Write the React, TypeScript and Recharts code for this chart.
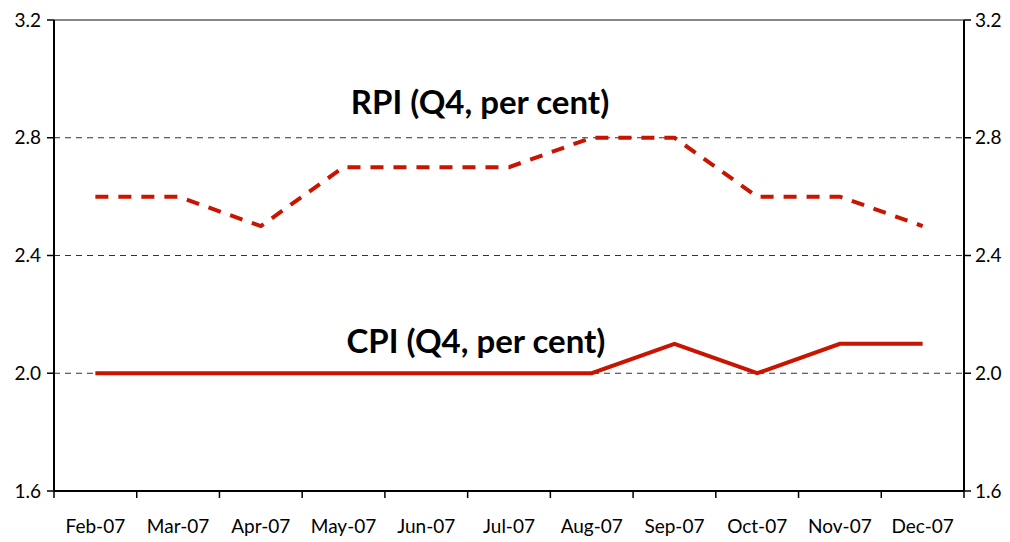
import {
  LineChart,
  Line,
  XAxis,
  YAxis,
  CartesianGrid,
  ReferenceLine,
  ReferenceDot,
} from 'recharts';

const months = ['Feb-07', 'Mar-07', 'Apr-07', 'May-07', 'Jun-07', 'Jul-07', 'Aug-07', 'Sep-07', 'Oct-07', 'Nov-07', 'Dec-07'];
const rpi = [2.6, 2.6, 2.5, 2.7, 2.7, 2.7, 2.8, 2.8, 2.6, 2.6, 2.5];
const cpi = [2.0, 2.0, 2.0, 2.0, 2.0, 2.0, 2.0, 2.1, 2.0, 2.1, 2.1];
const yTicks = [1.6, 2.0, 2.4, 2.8, 3.2];

const RED = '#c81400';
const FONT = 'Lato, "Open Sans", sans-serif';

// numeric x so the tick marks can sit between the months, Excel style
const data = months.map((m, i) => ({ i, month: m, rpi: rpi[i], cpi: cpi[i] }));
const labelTicks = months.map((_, i) => i);
const boundaryTicks = [-0.5, ...months.map((_, i) => i + 0.5)];

const tickStyle = { fontSize: 19, fill: '#000', fontFamily: FONT };
const titleStyle = { fontSize: 33, fontWeight: 700, fill: '#000', fontFamily: FONT };

export default function App() {
  return (
    <div style={{ width: 1010, height: 542, background: '#fff' }}>
      <style>{`body{margin:0}`}</style>
      <LineChart
        width={1010}
        height={542}
        data={data}
        margin={{ top: 20, right: 0, bottom: 0, left: 0 }}
      >
        <CartesianGrid
          vertical={false}
          horizontalValues={[2.0, 2.4, 2.8]}
          stroke="#333"
          strokeDasharray="6 5"
          yAxisId="left"
        />
        <XAxis
          xAxisId="month"
          dataKey="i"
          type="number"
          domain={[-0.5, 10.5]}
          ticks={labelTicks}
          interval={0}
          tickFormatter={(v: number) => months[v]}
          axisLine={false}
          tickLine={false}
          tickMargin={22}
          height={50}
          tick={tickStyle}
        />
        <XAxis
          xAxisId="edge"
          dataKey="i"
          type="number"
          domain={[-0.5, 10.5]}
          ticks={boundaryTicks}
          interval={0}
          tickFormatter={() => ''}
          tickSize={7}
          height={1}
          axisLine={{ stroke: '#000', strokeWidth: 2 }}
          tickLine={{ stroke: '#000', strokeWidth: 1.5 }}
        />
        <YAxis
          yAxisId="left"
          domain={[1.6, 3.2]}
          ticks={yTicks}
          tickFormatter={(v: number) => v.toFixed(1)}
          width={54}
          tickSize={7}
          tickMargin={6}
          axisLine={{ stroke: '#000', strokeWidth: 2 }}
          tickLine={{ stroke: '#000', strokeWidth: 1.5 }}
          tick={tickStyle}
        />
        <YAxis
          yAxisId="right"
          orientation="right"
          domain={[1.6, 3.2]}
          ticks={yTicks}
          tickFormatter={(v: number) => v.toFixed(1)}
          width={46}
          tickSize={7}
          tickMargin={4}
          axisLine={{ stroke: '#000', strokeWidth: 2 }}
          tickLine={{ stroke: '#000', strokeWidth: 1.5 }}
          tick={tickStyle}
        />
        <ReferenceLine yAxisId="left" xAxisId="month" y={3.2} stroke="#888" strokeWidth={2} />
        {/* invisible series so the right axis and the tick-mark axis get drawn */}
        <Line
          xAxisId="edge"
          yAxisId="right"
          dataKey="rpi"
          stroke="none"
          dot={false}
          activeDot={false}
          legendType="none"
          isAnimationActive={false}
        />
        <Line
          xAxisId="month"
          yAxisId="left"
          type="linear"
          dataKey="rpi"
          stroke={RED}
          strokeWidth={4}
          strokeDasharray="13 10"
          dot={false}
          isAnimationActive={false}
        />
        <Line
          xAxisId="month"
          yAxisId="left"
          type="linear"
          dataKey="cpi"
          stroke={RED}
          strokeWidth={4}
          dot={false}
          isAnimationActive={false}
        />
        <ReferenceDot
          xAxisId="month"
          yAxisId="left"
          x={4.65}
          y={2.92}
          r={0}
          stroke="none"
          label={{ value: 'RPI (Q4, per cent)', position: 'center', ...titleStyle }}
        />
        <ReferenceDot
          xAxisId="month"
          yAxisId="left"
          x={4.6}
          y={2.11}
          r={0}
          stroke="none"
          label={{ value: 'CPI (Q4, per cent)', position: 'center', ...titleStyle }}
        />
      </LineChart>
    </div>
  );
}
